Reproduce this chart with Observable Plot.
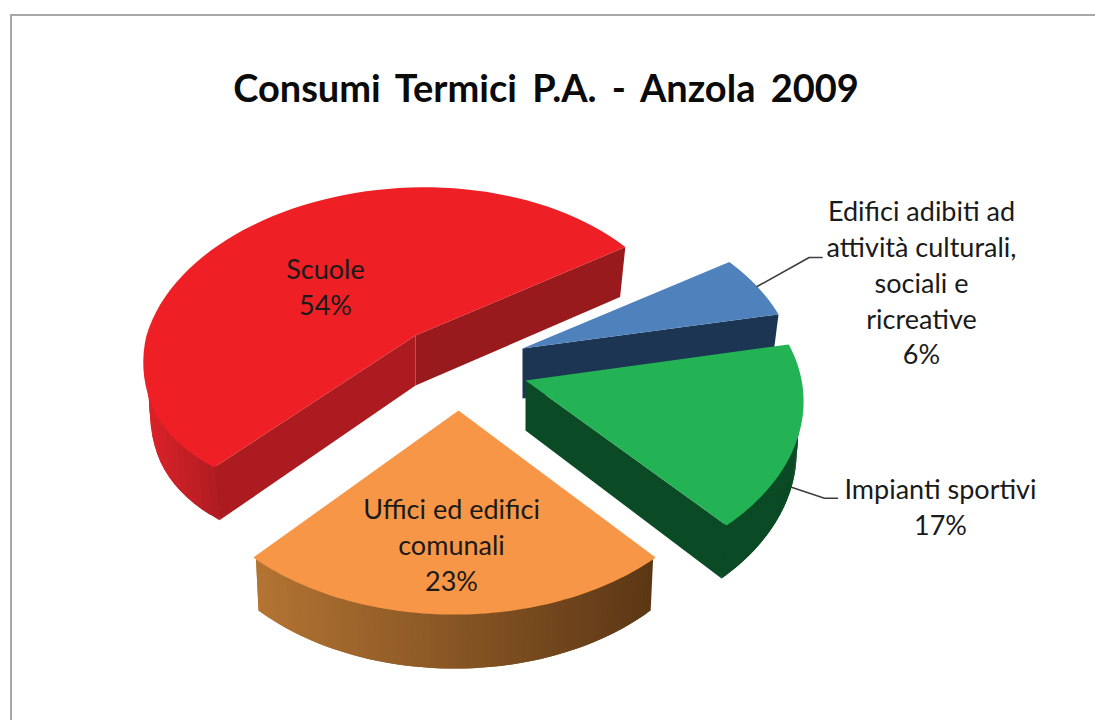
<!DOCTYPE html>
<html lang="it">
<head>
<meta charset="utf-8">
<script src="https://cdn.jsdelivr.net/npm/d3@7"></script>
<script src="https://cdn.jsdelivr.net/npm/@observablehq/plot@0.6"></script>
<style>
  html, body { margin: 0; padding: 0; background: #fff; width: 1095px; height: 720px; overflow: hidden; }
  #frame { position: absolute; left: 10px; top: 14px; right: 0; bottom: 0; border-left: 2px solid #a8a8a8; border-top: 2px solid #a8a8a8; }
  #title { position: relative; height: 130px; box-sizing: border-box; padding-top: 67px; width: 1092px; text-align: center;
           font: 700 38px/40px Lato, sans-serif; color: #0b0b0b; word-spacing: 6px; }
  #chart { position: relative; height: 590px; }
  #chart svg { display: block; background: transparent; }
</style>
</head>
<body>
<div id="frame"></div>
<div id="title">Consumi Termici P.A. - Anzola 2009</div>
<div id="chart"></div>
<script>
// ---- data
const categories = ["Edifici adibiti ad\nattività culturali,\nsociali e\nricreative", "Impianti sportivi", "Uffici ed edifici\ncomunali", "Scuole"];
const shares = [6, 17, 23, 54];
const percentLabels = ["6%", "17%", "23%", "54%"];

// ---- colours (null: that cut face is hidden behind the slice's top)
const topColors = ["#4f81bd", "#23b254", "#f79646", "#ee1f25"];
const wallStartColors = [null, null, null, "#ab1b20"];
const wallEndColors = ["#1c3552", "#0a4a24", null, "#981a1c"];
const rimLeftColors = ["#1c3552", "#0a4a24", "#b37433", "#dc2229"];
const rimRightColors = ["#1c3552", "#0a4a24", "#5c3715", "#b01c22"];

// ---- layout of the exploded 3D projection
const apexX = [522, 525, 458, 415];
const apexY = [348, 380, 410, 335];
const rimDX = [2, 0, -4, 0];
const rimDY = [2, 0, 2, 0];
const skewK = [0, 9.5, 0, 9];
const skewZ0 = [0, 0.75, 0, 0];
const frontCut = [0, 0, 0, 0.26]; // how much the front of the rim is flattened, per unit of depth past frontFrom
const frontFrom = 0.4;
const labelDX = [399, 415, -7, -90];
const labelDY = [-67, 125, 133, -50];
const R = 269, H = 171, P = 6.5, DEPTH = 50, SHRINK = 0.975, STEPS = 72;
const startAngle = 55.8 * Math.PI / 180;

const arcs = d3.pie().sort(null).value(d => d).startAngle(startAngle).endAngle(startAngle + 2 * Math.PI)(shares);

function topPoint(i, a) {
  const x = Math.sin(a), z = -Math.cos(a), s = P / (P - z);
  const skew = skewK[i] * Math.max(skewZ0[i] - z, 0);
  const flat = 1 - frontCut[i] * Math.max(z - frontFrom, 0);
  return [apexX[i] + rimDX[i] + skew + R * x * s,
          apexY[i] + rimDY[i] + H * z * s * flat];
}
function bottomPoint(i, a) {
  const [X, Y] = topPoint(i, a), z = -Math.cos(a);
  return [apexX[i] + (X - apexX[i]) * SHRINK, Y + DEPTH + 4 * Math.max(z, 0)];
}
const inset = (i, p) => [p[0] + (apexX[i] - p[0]) * 0.012, p[1] + (apexY[i] - p[1]) * 0.012];

const polygons = [];
const addPoly = (id, color, pts) => pts.forEach(p => polygons.push({id, color, x: p[0], y: p[1]}));

arcs.forEach((arc, i) => {
  const A = arc.startAngle, B = arc.endAngle;
  const ang = k => A + (B - A) * k / STEPS;
  const apexTop = [apexX[i], apexY[i]], apexBot = [apexX[i], apexY[i] + DEPTH];
  const visible = d3.range(STEPS + 1).filter(k => Math.cos(ang(k)) < 0);
  const xs = d3.range(STEPS + 1).map(k => topPoint(i, ang(k))[0]);
  const ramp = d3.scaleLinear().domain(d3.extent(visible.map(k => xs[k])))
    .range([rimLeftColors[i], rimRightColors[i]]).clamp(true);
  for (const k of visible) {
    if (k >= STEPS) continue;
    const next = Math.min(k + 2, STEPS);
    addPoly(`rim${i}-${k}`, ramp((xs[k] + xs[k + 1]) / 2),
      [inset(i, topPoint(i, ang(k))), inset(i, topPoint(i, ang(next))), bottomPoint(i, ang(next)), bottomPoint(i, ang(k))]);
  }
  if (wallStartColors[i]) addPoly(`cutA${i}`, wallStartColors[i], [apexTop, topPoint(i, A), bottomPoint(i, A), apexBot]);
  if (wallEndColors[i]) addPoly(`cutB${i}`, wallEndColors[i], [apexTop, topPoint(i, B), bottomPoint(i, B), apexBot]);
  addPoly(`top${i}`, topColors[i], [apexTop, ...d3.range(STEPS + 1).map(k => topPoint(i, ang(k)))]);
});

// ---- label table and leader lines
const labels = arcs.map((arc, i) => ({
  text: categories[i] + "\n" + percentLabels[i],
  x: apexX[i] + labelDX[i],
  y: apexY[i] + labelDY[i]
}));
const mid = a => (a.startAngle + a.endAngle) / 2;
const blueAnchor = topPoint(0, mid(arcs[0]));
const greenAnchor = bottomPoint(1, mid(arcs[1]));
const leaders = [
  ...[blueAnchor, [blueAnchor[0] + 52, blueAnchor[1] - 29], [blueAnchor[0] + 65, blueAnchor[1] - 29]].map(p => ({id: "a", x: p[0], y: p[1]})),
  ...[greenAnchor, [greenAnchor[0] + 33, greenAnchor[1] + 11], [greenAnchor[0] + 46, greenAnchor[1] + 11]].map(p => ({id: "b", x: p[0], y: p[1]}))
];

const chart = Plot.plot({
  width: 1095, height: 590,
  margin: 0,
  x: {domain: [0, 1095], range: [0, 1095], axis: null},
  y: {domain: [130, 720], range: [0, 590], axis: null},
  marks: [
    Plot.line(polygons, {x: "x", y: "y", z: "id", fill: "color", stroke: "none", curve: "linear-closed"}),
    Plot.line(leaders, {x: "x", y: "y", z: "id", stroke: "#3c3c3c", strokeWidth: 1.5}),
    Plot.text(labels, {x: "x", y: "y", text: "text", fontSize: 27, lineHeight: 1.324, fill: "#1a1a1a", fontFamily: "Lato, sans-serif", textAnchor: "middle"})
  ]
});
document.getElementById("chart").appendChild(chart);
</script>
</body>
</html>
